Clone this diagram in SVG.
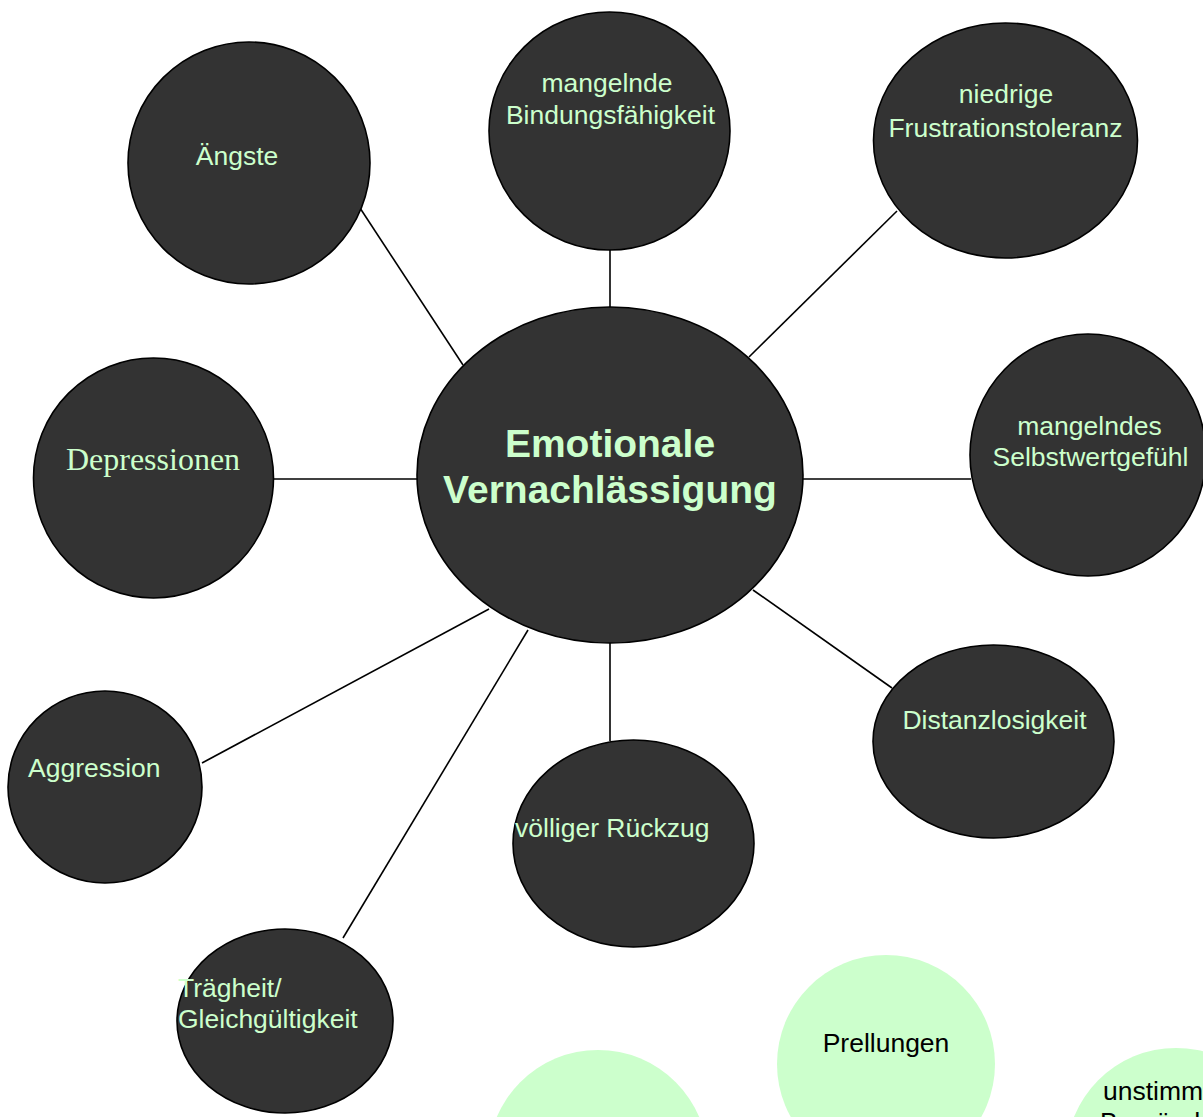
<svg xmlns="http://www.w3.org/2000/svg" width="1203" height="1117" viewBox="0 0 1203 1117">
<style>
.node{fill:#333333;stroke:#000;stroke-width:1.6}
.soft{fill:#CCFFCC;stroke:none}
.lbl{font-family:"Liberation Sans",Arial,sans-serif;font-size:26.5px;fill:#CCFFCC}
.dark{font-family:"Liberation Sans",Arial,sans-serif;font-size:26.5px;fill:#000}
.serif{font-family:"Liberation Serif","Times New Roman",serif;font-size:32px;fill:#CCFFCC}
.title{font-family:"Liberation Sans",Arial,sans-serif;font-size:39px;font-weight:bold;fill:#CCFFCC}
.c{text-anchor:middle}
.conn line{stroke:#000;stroke-width:1.6}
</style>
<rect width="1203" height="1117" fill="#fff"/>
<g id="connectors" class="conn">
<line x1="360" y1="208" x2="463" y2="365"/>
<line x1="610" y1="250" x2="610" y2="308"/>
<line x1="897" y1="211" x2="749" y2="357"/>
<line x1="274" y1="479" x2="418" y2="479"/>
<line x1="802" y1="479" x2="971" y2="479"/>
<line x1="753" y1="590" x2="892" y2="688"/>
<line x1="202" y1="763" x2="489" y2="609"/>
<line x1="528" y1="630" x2="343" y2="938"/>
<line x1="610" y1="642" x2="610" y2="741"/>
</g>
<g id="green-left"><circle class="soft" cx="598" cy="1160" r="110"/></g>
<g id="prellungen"><circle class="soft" cx="886" cy="1064" r="109"/><text class="dark c" x="886" y="1052">Prellungen</text></g>
<g id="unstimmige"><circle class="soft" cx="1176" cy="1158" r="110"/><text class="dark" x="1103" y="1100">unstimmige</text><text class="dark" x="1100" y="1131">Begründungen</text></g>
<g id="center"><ellipse class="node" cx="610" cy="475" rx="193" ry="168"/><text class="title c" x="610" y="457">Emotionale</text><text class="title c" x="610" y="503">Vernachlässigung</text></g>
<g id="aengste"><circle class="node" cx="249" cy="163" r="121"/><text class="lbl c" x="237" y="165">Ängste</text></g>
<g id="bindung"><ellipse class="node" cx="609.5" cy="131" rx="120.5" ry="119"/><text class="lbl c" x="607" y="92">mangelnde</text><text class="lbl c" x="610.5" y="124">Bindungsfähigkeit</text></g>
<g id="frustration"><ellipse class="node" cx="1005.5" cy="140.5" rx="132" ry="117.5"/><text class="lbl c" x="1006" y="103">niedrige</text><text class="lbl c" x="1005.5" y="137">Frustrationstoleranz</text></g>
<g id="selbstwert"><ellipse class="node" cx="1088" cy="455" rx="118" ry="121"/><text class="lbl c" x="1089.5" y="435">mangelndes</text><text class="lbl c" x="1090.5" y="466">Selbstwertgefühl</text></g>
<g id="depressionen"><circle class="node" cx="153.5" cy="478" r="120"/><text class="serif c" x="153" y="470">Depressionen</text></g>
<g id="distanz"><ellipse class="node" cx="993.5" cy="741.5" rx="120.5" ry="96.5"/><text class="lbl c" x="994.5" y="729">Distanzlosigkeit</text></g>
<g id="aggression"><ellipse class="node" cx="105" cy="787" rx="97" ry="96"/><text class="lbl" x="28" y="777">Aggression</text></g>
<g id="rueckzug"><ellipse class="node" cx="633.5" cy="843.5" rx="120.5" ry="103.5"/><text class="lbl" x="515" y="837">völliger Rückzug</text></g>
<g id="traegheit"><ellipse class="node" cx="285" cy="1021" rx="108" ry="92"/><text class="lbl" x="178" y="997">Trägheit/</text><text class="lbl" x="178" y="1028">Gleichgültigkeit</text></g>
</svg>
